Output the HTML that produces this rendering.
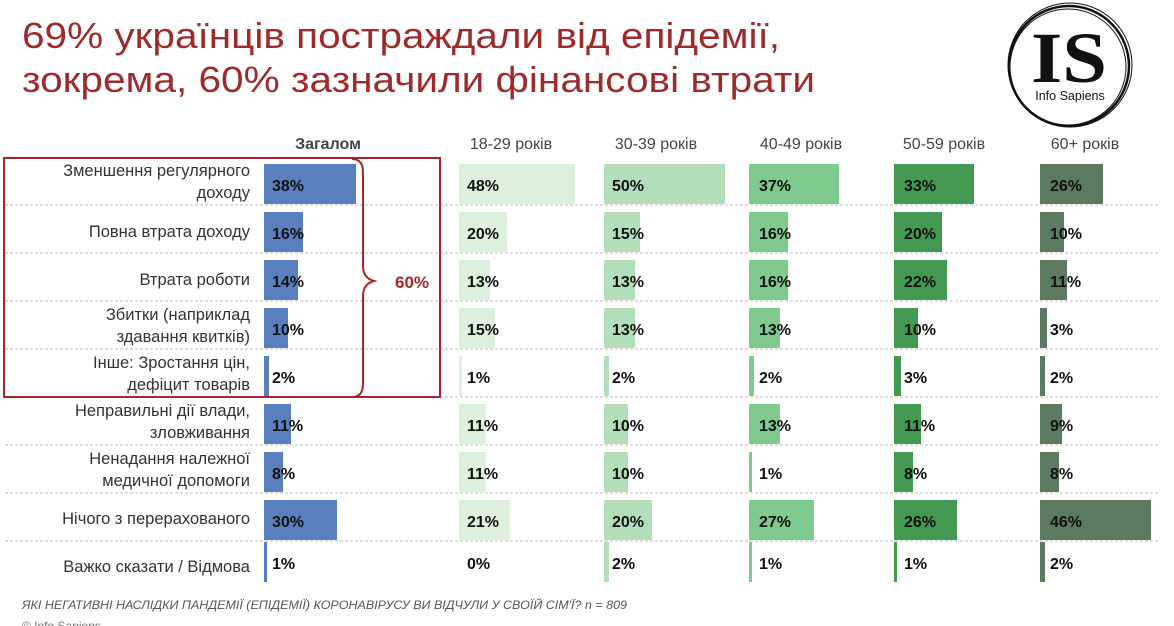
<!DOCTYPE html>
<html><head><meta charset="utf-8"><style>
body{margin:0;background:#fff;}
svg{display:block;font-family:"Liberation Sans",sans-serif;}
.l{font-size:16.5px;fill:#333;text-anchor:end}
.v{font-size:16px;font-weight:bold;fill:#111}
.h{font-size:16px;fill:#444;text-anchor:middle}
</style></head><body>
<svg width="1174" height="626" viewBox="0 0 1174 626">
<text x="22" y="48" font-size="36" fill="#9e2a2b" textLength="758" lengthAdjust="spacingAndGlyphs">69% українців постраждали від епідемії,</text>
<text x="22" y="92" font-size="36" fill="#9e2a2b" textLength="793" lengthAdjust="spacingAndGlyphs">зокрема, 60% зазначили фінансові втрати</text>
<!-- logo -->
<g fill="none" stroke="#111">
<circle cx="1069" cy="66" r="60" stroke-width="2.5"/>
<circle cx="1070" cy="65" r="62" stroke-width="1"/>
<circle cx="1068" cy="67" r="58" stroke-width="1"/>
</g>
<text x="1069" y="82" font-family="Liberation Serif" font-weight="bold" font-size="72" text-anchor="middle" fill="#111" textLength="76" lengthAdjust="spacingAndGlyphs">IS</text>
<text x="1070" y="100" font-size="12.5" text-anchor="middle" fill="#111">Info Sapiens</text>
<!-- headers -->
<text class="h" x="328" y="149" font-weight="bold" fill="#333">Загалом</text>
<text class="h" x="511" y="149">18-29 років</text>
<text class="h" x="656" y="149">30-39 років</text>
<text class="h" x="801" y="149">40-49 років</text>
<text class="h" x="944" y="149">50-59 років</text>
<text class="h" x="1085" y="149">60+ років</text>
<!-- dashed lines -->
<g stroke="#bbb" stroke-dasharray="3,2" stroke-width="1">
<line x1="5" x2="1160" y1="205" y2="205"/><line x1="5" x2="1160" y1="253" y2="253"/>
<line x1="5" x2="1160" y1="301" y2="301"/><line x1="5" x2="1160" y1="349" y2="349"/>
<line x1="5" x2="1160" y1="397" y2="397"/><line x1="5" x2="1160" y1="445" y2="445"/>
<line x1="5" x2="1160" y1="493" y2="493"/><line x1="5" x2="1160" y1="541" y2="541"/>
</g>
<!-- labels -->
<text class="l" x="250" y="176">Зменшення регулярного</text><text class="l" x="250" y="198">доходу</text>
<text class="l" x="250" y="237">Повна втрата доходу</text>
<text class="l" x="250" y="285">Втрата роботи</text>
<text class="l" x="250" y="320">Збитки (наприклад</text><text class="l" x="250" y="342">здавання квитків)</text>
<text class="l" x="250" y="368">Інше: Зростання цін,</text><text class="l" x="250" y="390">дефіцит товарів</text>
<text class="l" x="250" y="416">Неправильні дії влади,</text><text class="l" x="250" y="438">зловживання</text>
<text class="l" x="250" y="464">Ненадання належної</text><text class="l" x="250" y="486">медичної допомоги</text>
<text class="l" x="250" y="524">Нічого з перерахованого</text>
<text class="l" x="250" y="572">Важко сказати / Відмова</text>
<!-- Загалом -->
<g fill="#5a7fbe">
<rect x="264" y="164" width="92" height="40"/><rect x="264" y="212" width="39" height="40"/>
<rect x="264" y="260" width="34" height="40"/><rect x="264" y="308" width="24" height="40"/>
<rect x="264" y="356" width="5" height="40"/><rect x="264" y="404" width="27" height="40"/>
<rect x="264" y="452" width="19" height="40"/><rect x="264" y="500" width="73" height="40"/>
<rect x="264" y="542" width="3" height="40"/>
</g>
<g fill="#dcf0dc">
<rect x="459" y="164" width="116" height="40"/><rect x="459" y="212" width="48" height="40"/>
<rect x="459" y="260" width="31" height="40"/><rect x="459" y="308" width="36" height="40"/>
<rect x="459" y="356" width="3" height="40"/><rect x="459" y="404" width="27" height="40"/>
<rect x="459" y="452" width="27" height="40"/><rect x="459" y="500" width="51" height="40"/>
</g>
<g fill="#b2dfba">
<rect x="604" y="164" width="121" height="40"/><rect x="604" y="212" width="36" height="40"/>
<rect x="604" y="260" width="31" height="40"/><rect x="604" y="308" width="31" height="40"/>
<rect x="604" y="356" width="5" height="40"/><rect x="604" y="404" width="24" height="40"/>
<rect x="604" y="452" width="24" height="40"/><rect x="604" y="500" width="48" height="40"/>
<rect x="604" y="542" width="5" height="40"/>
</g>
<g fill="#7fcb8f">
<rect x="749" y="164" width="90" height="40"/><rect x="749" y="212" width="39" height="40"/>
<rect x="749" y="260" width="39" height="40"/><rect x="749" y="308" width="31" height="40"/>
<rect x="749" y="356" width="5" height="40"/><rect x="749" y="404" width="31" height="40"/>
<rect x="749" y="452" width="3" height="40"/><rect x="749" y="500" width="65" height="40"/>
<rect x="749" y="542" width="3" height="40"/>
</g>
<g fill="#43994f">
<rect x="894" y="164" width="80" height="40"/><rect x="894" y="212" width="48" height="40"/>
<rect x="894" y="260" width="53" height="40"/><rect x="894" y="308" width="24" height="40"/>
<rect x="894" y="356" width="7" height="40"/><rect x="894" y="404" width="27" height="40"/>
<rect x="894" y="452" width="19" height="40"/><rect x="894" y="500" width="63" height="40"/>
<rect x="894" y="542" width="3" height="40"/>
</g>
<g fill="#5b7a5f">
<rect x="1040" y="164" width="63" height="40"/><rect x="1040" y="212" width="24" height="40"/>
<rect x="1040" y="260" width="27" height="40"/><rect x="1040" y="308" width="7" height="40"/>
<rect x="1040" y="356" width="5" height="40"/><rect x="1040" y="404" width="22" height="40"/>
<rect x="1040" y="452" width="19" height="40"/><rect x="1040" y="500" width="111" height="40"/>
<rect x="1040" y="542" width="5" height="40"/>
</g>
<!-- values -->
<g class="v">
<text class="v" x="272" y="191">38%</text><text class="v" x="272" y="239">16%</text><text class="v" x="272" y="287">14%</text><text class="v" x="272" y="335">10%</text><text class="v" x="272" y="383">2%</text><text class="v" x="272" y="431">11%</text><text class="v" x="272" y="479">8%</text><text class="v" x="272" y="527">30%</text><text class="v" x="272" y="569">1%</text>
<text class="v" x="467" y="191">48%</text><text class="v" x="467" y="239">20%</text><text class="v" x="467" y="287">13%</text><text class="v" x="467" y="335">15%</text><text class="v" x="467" y="383">1%</text><text class="v" x="467" y="431">11%</text><text class="v" x="467" y="479">11%</text><text class="v" x="467" y="527">21%</text><text class="v" x="467" y="569">0%</text>
<text class="v" x="612" y="191">50%</text><text class="v" x="612" y="239">15%</text><text class="v" x="612" y="287">13%</text><text class="v" x="612" y="335">13%</text><text class="v" x="612" y="383">2%</text><text class="v" x="612" y="431">10%</text><text class="v" x="612" y="479">10%</text><text class="v" x="612" y="527">20%</text><text class="v" x="612" y="569">2%</text>
<text class="v" x="759" y="191">37%</text><text class="v" x="759" y="239">16%</text><text class="v" x="759" y="287">16%</text><text class="v" x="759" y="335">13%</text><text class="v" x="759" y="383">2%</text><text class="v" x="759" y="431">13%</text><text class="v" x="759" y="479">1%</text><text class="v" x="759" y="527">27%</text><text class="v" x="759" y="569">1%</text>
<text class="v" x="904" y="191">33%</text><text class="v" x="904" y="239">20%</text><text class="v" x="904" y="287">22%</text><text class="v" x="904" y="335">10%</text><text class="v" x="904" y="383">3%</text><text class="v" x="904" y="431">11%</text><text class="v" x="904" y="479">8%</text><text class="v" x="904" y="527">26%</text><text class="v" x="904" y="569">1%</text>
<text class="v" x="1050" y="191">26%</text><text class="v" x="1050" y="239">10%</text><text class="v" x="1050" y="287">11%</text><text class="v" x="1050" y="335">3%</text><text class="v" x="1050" y="383">2%</text><text class="v" x="1050" y="431">9%</text><text class="v" x="1050" y="479">8%</text><text class="v" x="1050" y="527">46%</text><text class="v" x="1050" y="569">2%</text>
</g>
<!-- red box + brace -->
<rect x="4" y="158" width="436" height="239" fill="none" stroke="#a8262b" stroke-width="2"/>
<path d="M352 159 Q363 159 363 172 L363 266 Q363 278 374 281 Q363 284 363 296 L363 384 Q363 397 352 397" fill="none" stroke="#a8262b" stroke-width="2"/>
<text x="395" y="288" font-size="17" font-weight="bold" fill="#a8262b">60%</text>
<!-- footer -->
<text x="22" y="609" font-size="12" font-style="italic" fill="#555" textLength="605" lengthAdjust="spacingAndGlyphs">ЯКІ НЕГАТИВНІ НАСЛІДКИ ПАНДЕМІЇ (ЕПІДЕМІЇ) КОРОНАВІРУСУ ВИ ВІДЧУЛИ У СВОЇЙ СІМ'Ї? n = 809</text>
<text x="22" y="630" font-size="12" fill="#777">© Info Sapiens</text>
</svg>
</body></html>
